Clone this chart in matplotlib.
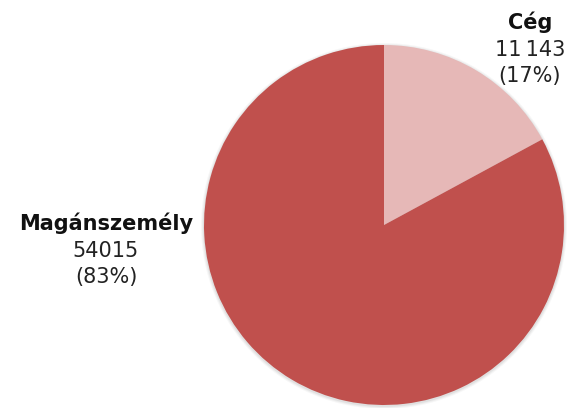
import matplotlib
matplotlib.use("Agg")
import matplotlib.pyplot as plt
from matplotlib.patches import Circle

# adatok
categories = ["Cég", "Magánszemély"]
values = [11143, 54015]
value_labels = ["11\u2009143", "54015"]
colors = ["#e6b8b7", "#c0504d"]

W, H = 568, 408
fig = plt.figure(figsize=(W / 100, H / 100), dpi=100)
ax = fig.add_axes([0, 0, 1, 1])

cx, cy, r = 384, H - 225, 180

# halvány árnyék a kör körül
for i, a in enumerate([0.05, 0.04, 0.03]):
    ax.add_patch(Circle((cx, cy - 1), r + 1 + i, color="#000000", alpha=a, lw=0, zorder=0))

ax.pie(values, colors=colors, startangle=90, counterclock=False,
       center=(cx, cy), radius=r, wedgeprops=dict(linewidth=0),
       frame=True)

ax.set_xlim(0, W)
ax.set_ylim(0, H)
ax.set_aspect("auto")
ax.axis("off")

total = sum(values)
label_pos = {"Cég": (530, H - 29), "Magánszemély": (106, H - 230)}
font = "DejaVu Sans"
fs = 15
for cat, v, vl in zip(categories, values, value_labels):
    x, y = label_pos[cat]
    pct = round(v / total * 100)
    ax.text(x, y, cat, ha="center", va="baseline", fontsize=fs,
            fontweight="bold", family=font, color="#111111")
    ax.text(x, y - 27, vl, ha="center", va="baseline", fontsize=fs,
            family=font, color="#222222")
    ax.text(x, y - 53, f"({pct}%)", ha="center", va="baseline", fontsize=fs,
            family=font, color="#222222")

fig.savefig("out.png", dpi=100, facecolor="white")
